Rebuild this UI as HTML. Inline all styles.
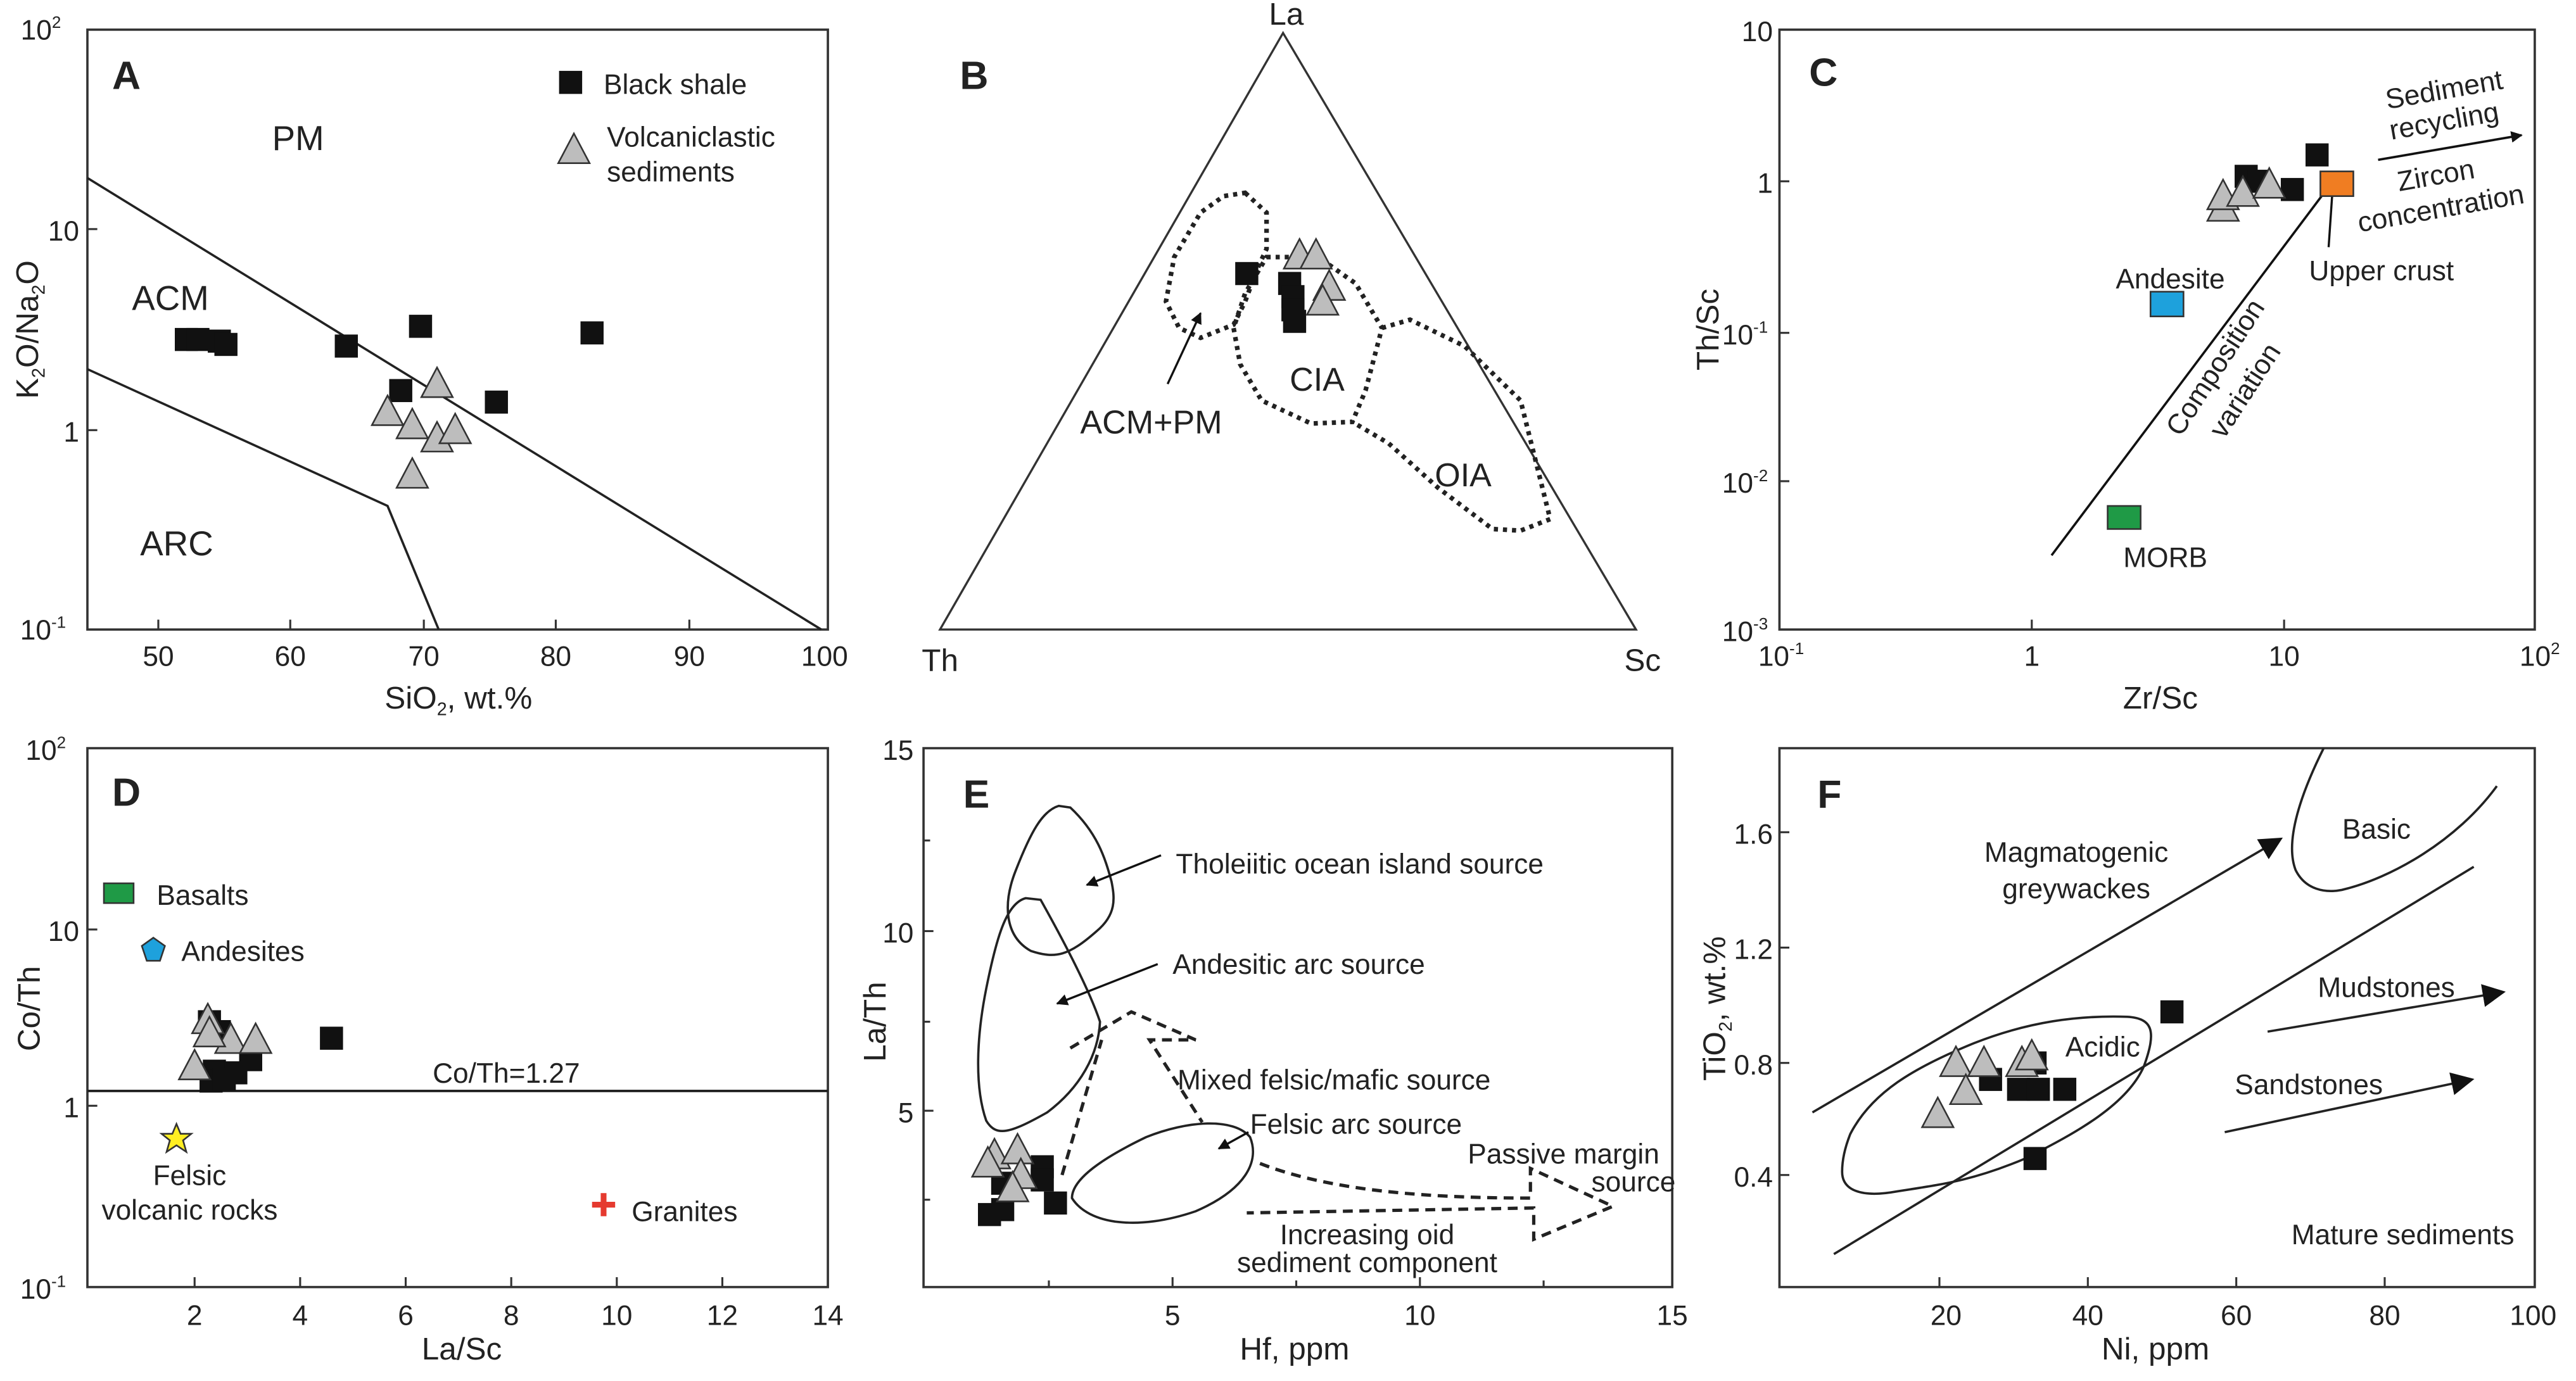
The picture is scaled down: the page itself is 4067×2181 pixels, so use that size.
<!DOCTYPE html>
<html><head><meta charset="utf-8"><style>html,body{margin:0;padding:0;background:#fff;}svg{display:block;}text{font-family:"Liberation Sans",Arial,sans-serif;fill:#222;}</style></head>
<body>
<svg width="4067" height="2181" viewBox="0 0 1562 838" preserveAspectRatio="none" xmlns="http://www.w3.org/2000/svg">
<defs>
<rect id="sq" x="-7" y="-7" width="14" height="14" fill="#111"/>
<polygon id="tri" points="0,-11 9.5,7 -9.5,7" fill="#bdbdbd" stroke="#333" stroke-width="1"/>
<marker id="ah" viewBox="0 0 10 10" refX="9" refY="5" markerWidth="7" markerHeight="7" orient="auto" markerUnits="userSpaceOnUse"><path d="M0,0 L10,5 L0,10 z" fill="#111"/></marker>
<marker id="ahb" viewBox="0 0 10 10" refX="9" refY="5" markerWidth="14" markerHeight="14" orient="auto" markerUnits="userSpaceOnUse"><path d="M0,0 L10,5 L0,10 z" fill="#111"/></marker>
</defs>
<g font-size="17">
<!-- ===== Panel A ===== -->
<rect x="53" y="18" width="449" height="364" fill="none" stroke="#333" stroke-width="1.4"/>
<g stroke="#333" stroke-width="1.2">
<line x1="96" y1="382" x2="96" y2="376"/><line x1="176" y1="382" x2="176" y2="376"/><line x1="257" y1="382" x2="257" y2="376"/><line x1="337" y1="382" x2="337" y2="376"/><line x1="418" y1="382" x2="418" y2="376"/>
<line x1="53" y1="139" x2="59" y2="139"/><line x1="53" y1="261" x2="59" y2="261"/>
</g>
<g text-anchor="middle"><text x="96" y="404">50</text><text x="176" y="404">60</text><text x="257" y="404">70</text><text x="337" y="404">80</text><text x="418" y="404">90</text><text x="500" y="404">100</text></g>
<g text-anchor="end"><text x="37" y="24">10<tspan font-size="10" dy="-7">2</tspan></text><text x="48" y="146">10</text><text x="48" y="268">1</text><text x="40" y="388">10<tspan font-size="10" dy="-7">-1</tspan></text></g>
<text x="278" y="430" text-anchor="middle" font-size="19">SiO<tspan font-size="11" dy="4">2</tspan><tspan dy="-4">, wt.%</tspan></text>
<text transform="translate(23,200) rotate(-90)" text-anchor="middle" font-size="19">K<tspan font-size="11" dy="4">2</tspan><tspan dy="-4">O/Na</tspan><tspan font-size="11" dy="4">2</tspan><tspan dy="-4">O</tspan></text>
<polyline points="53,108 498,382" fill="none" stroke="#222" stroke-width="1.4"/>
<polyline points="53,224 235,307 266,382" fill="none" stroke="#222" stroke-width="1.4"/>
<text x="68" y="54" font-size="24" font-weight="bold">A</text>
<text x="165" y="91" font-size="21">PM</text><text x="80" y="188" font-size="21">ACM</text><text x="85" y="337" font-size="21">ARC</text>
<use href="#sq" x="346" y="50"/><text x="366" y="57">Black shale</text>
<use href="#tri" x="348" y="92"/><text x="368" y="89">Volcaniclastic</text><text x="368" y="110">sediments</text>
<use href="#sq" x="113" y="206"/><use href="#sq" x="120" y="206"/><use href="#sq" x="133" y="207"/><use href="#sq" x="137" y="209"/><use href="#sq" x="210" y="210"/><use href="#sq" x="255" y="198"/><use href="#sq" x="243" y="237"/><use href="#sq" x="359" y="202"/><use href="#sq" x="301" y="244"/>
<use href="#tri" x="265" y="234"/><use href="#tri" x="235" y="251"/><use href="#tri" x="250" y="259"/><use href="#tri" x="265" y="267"/><use href="#tri" x="276" y="262"/><use href="#tri" x="250" y="289"/>

<!-- ===== Panel B ===== -->
<polygon points="778,20 570,382 992,382" fill="none" stroke="#333" stroke-width="1.3"/>
<text x="780" y="15" text-anchor="middle" font-size="19">La</text><text x="570" y="407" text-anchor="middle" font-size="19">Th</text><text x="996" y="407" text-anchor="middle" font-size="19">Sc</text>
<text x="582" y="54" font-size="24" font-weight="bold">B</text>
<g fill="none" stroke="#222" stroke-width="2.8" stroke-dasharray="2.5,3">
<path d="M755,117 L768,129 L768,151 L762,164 L755,183 L748,197 L728,205 L715,199 L707,183 L712,156 L728,129 L742,119 Z"/>
<path d="M768,156 L788,156 L805,160 L822,172 L832,189 L838,199 L828,237 L820,256 L795,257 L765,243 L752,221 L748,199 L755,178 Z"/>
<path d="M838,199 L855,194 L888,210 L922,243 L940,315 L922,322 L905,321 L872,296 L842,269 L820,256"/>
</g>
<line x1="708" y1="233" x2="728" y2="190" stroke="#111" stroke-width="1.3" marker-end="url(#ah)"/>
<text x="655" y="263" font-size="20">ACM+PM</text><text x="782" y="237" font-size="20">CIA</text><text x="870" y="295" font-size="20">OIA</text>
<use href="#sq" x="756" y="166"/><use href="#sq" x="782" y="172"/><use href="#sq" x="784" y="180"/><use href="#sq" x="784" y="188"/><use href="#sq" x="785" y="195"/>
<use href="#tri" x="788" y="156"/><use href="#tri" x="798" y="156"/><use href="#tri" x="806" y="175"/><use href="#tri" x="802" y="184"/>

<!-- ===== Panel C ===== -->
<rect x="1079" y="18" width="458" height="364" fill="none" stroke="#333" stroke-width="1.4"/>
<g stroke="#333" stroke-width="1.2">
<line x1="1232" y1="382" x2="1232" y2="376"/><line x1="1385" y1="382" x2="1385" y2="376"/>
<line x1="1079" y1="110" x2="1085" y2="110"/><line x1="1079" y1="202" x2="1085" y2="202"/><line x1="1079" y1="292" x2="1085" y2="292"/>
</g>
<g text-anchor="middle"><text x="1080" y="404">10<tspan font-size="10" dy="-7">-1</tspan></text><text x="1232" y="404">1</text><text x="1385" y="404">10</text><text x="1540" y="404">10<tspan font-size="10" dy="-7">2</tspan></text></g>
<g text-anchor="end"><text x="1075" y="25">10</text><text x="1075" y="117">1</text><text x="1072" y="209">10<tspan font-size="10" dy="-7">-1</tspan></text><text x="1072" y="299">10<tspan font-size="10" dy="-7">-2</tspan></text><text x="1072" y="389">10<tspan font-size="10" dy="-7">-3</tspan></text></g>
<text x="1310" y="430" text-anchor="middle" font-size="19">Zr/Sc</text>
<text transform="translate(1042,200) rotate(-90)" text-anchor="middle" font-size="19">Th/Sc</text>
<text x="1097" y="52" font-size="24" font-weight="bold">C</text>
<line x1="1244" y1="337" x2="1410" y2="116" stroke="#111" stroke-width="1.4"/>
<line x1="1412" y1="150" x2="1415" y2="106" stroke="#111" stroke-width="1.3" marker-end="url(#ah)"/>
<line x1="1442" y1="97" x2="1529" y2="82" stroke="#111" stroke-width="1.4" marker-end="url(#ah)"/>
<text transform="translate(1483,60) rotate(-10)" text-anchor="middle">Sediment</text>
<text transform="translate(1483,79) rotate(-10)" text-anchor="middle">recycling</text>
<text transform="translate(1478,112) rotate(-10)" text-anchor="middle">Zircon</text>
<text transform="translate(1481,132) rotate(-10)" text-anchor="middle">concentration</text>
<text x="1444" y="170" text-anchor="middle">Upper crust</text>
<text x="1316" y="175" text-anchor="middle">Andesite</text>
<text x="1313" y="344" text-anchor="middle">MORB</text>
<text transform="translate(1348,226) rotate(-57)" text-anchor="middle">Composition</text>
<text transform="translate(1366,240) rotate(-57)" text-anchor="middle">variation</text>
<use href="#sq" x="1405" y="94"/><use href="#sq" x="1362" y="107"/><use href="#sq" x="1370" y="110"/><use href="#sq" x="1390" y="115"/>
<use href="#tri" x="1348" y="127"/><use href="#tri" x="1348" y="120"/><use href="#tri" x="1360" y="118"/><use href="#tri" x="1376" y="113"/>
<rect x="1407" y="104" width="20" height="15" fill="#f07d22" stroke="#333" stroke-width="1"/>
<rect x="1304" y="177" width="20" height="15" fill="#1ea1dc" stroke="#333" stroke-width="1"/>
<rect x="1278" y="307" width="20" height="14" fill="#1f9a46" stroke="#333" stroke-width="1"/>

<!-- ===== Panel D ===== -->
<rect x="53" y="454" width="449" height="327" fill="none" stroke="#333" stroke-width="1.4"/>
<g stroke="#333" stroke-width="1.2">
<line x1="118" y1="781" x2="118" y2="775"/><line x1="182" y1="781" x2="182" y2="775"/><line x1="246" y1="781" x2="246" y2="775"/><line x1="310" y1="781" x2="310" y2="775"/><line x1="374" y1="781" x2="374" y2="775"/><line x1="438" y1="781" x2="438" y2="775"/>
<line x1="53" y1="564" x2="59" y2="564"/><line x1="53" y1="671" x2="59" y2="671"/>
</g>
<g text-anchor="middle"><text x="118" y="804">2</text><text x="182" y="804">4</text><text x="246" y="804">6</text><text x="310" y="804">8</text><text x="374" y="804">10</text><text x="438" y="804">12</text><text x="502" y="804">14</text></g>
<g text-anchor="end"><text x="40" y="461">10<tspan font-size="10" dy="-7">2</tspan></text><text x="48" y="571">10</text><text x="48" y="678">1</text><text x="40" y="788">10<tspan font-size="10" dy="-7">-1</tspan></text></g>
<text x="280" y="825" text-anchor="middle" font-size="19">La/Sc</text>
<text transform="translate(24,612) rotate(-90)" text-anchor="middle" font-size="19">Co/Th</text>
<text x="68" y="489" font-size="24" font-weight="bold">D</text>
<line x1="53" y1="662" x2="502" y2="662" stroke="#222" stroke-width="1.5"/>
<text x="307" y="657" text-anchor="middle">Co/Th=1.27</text>
<rect x="63" y="536" width="18" height="12" fill="#1f9a46" stroke="#333" stroke-width="1"/><text x="95" y="549">Basalts</text>
<polygon points="93,569 100,574 97,583 89,583 86,574" fill="#1ea1dc" stroke="#333" stroke-width="1"/><text x="110" y="583">Andesites</text>
<polygon points="107,682 109.5,688 116,688 111,692 113,699 107,695 101,699 103,692 98,688 104.5,688" fill="#ffee22" stroke="#333" stroke-width="1"/>
<text x="115" y="719" text-anchor="middle">Felsic</text><text x="115" y="740" text-anchor="middle">volcanic rocks</text>
<path d="M366,724 V738 M359,731 H373" stroke="#e53a2f" stroke-width="3.5"/><text x="383" y="741">Granites</text>
<use href="#sq" x="127" y="620"/><use href="#sq" x="133" y="626"/><use href="#sq" x="201" y="630"/><use href="#sq" x="130" y="650"/><use href="#sq" x="143" y="651"/><use href="#sq" x="152" y="643"/><use href="#sq" x="128" y="656"/><use href="#sq" x="136" y="655"/>
<use href="#tri" x="126" y="620"/><use href="#tri" x="140" y="632"/><use href="#tri" x="155" y="632"/><use href="#tri" x="118" y="648"/><use href="#tri" x="127" y="628"/>

<!-- ===== Panel E ===== -->
<rect x="560" y="454" width="454" height="327" fill="none" stroke="#333" stroke-width="1.4"/>
<g stroke="#333" stroke-width="1.2">
<line x1="636" y1="781" x2="636" y2="777"/><line x1="711" y1="781" x2="711" y2="775"/><line x1="786" y1="781" x2="786" y2="777"/><line x1="861" y1="781" x2="861" y2="775"/><line x1="936" y1="781" x2="936" y2="777"/>
<line x1="560" y1="565" x2="566" y2="565"/><line x1="560" y1="674" x2="566" y2="674"/><line x1="560" y1="510" x2="564" y2="510"/><line x1="560" y1="620" x2="564" y2="620"/><line x1="560" y1="728" x2="564" y2="728"/>
</g>
<g text-anchor="middle"><text x="711" y="804">5</text><text x="861" y="804">10</text><text x="1014" y="804">15</text></g>
<g text-anchor="end"><text x="554" y="461">15</text><text x="554" y="572">10</text><text x="554" y="681">5</text></g>
<text x="785" y="825" text-anchor="middle" font-size="19">Hf, ppm</text>
<text transform="translate(537,620) rotate(-90)" text-anchor="middle" font-size="19">La/Th</text>
<text x="584" y="490" font-size="24" font-weight="bold">E</text>
<g fill="none" stroke="#222" stroke-width="1.4">
<path d="M642,489 C632,492 625,505 616,528 C608,548 609,568 625,577 C640,582 648,580 665,565 C677,555 676,545 674,535 C670,520 665,505 649,490 Z"/>
<path d="M622,545 C610,548 604,570 598,600 C592,630 591,660 598,680 C604,690 612,688 635,675 C655,660 666,640 667,620 C662,605 650,580 631,546 Z"/>
<path d="M650,727 C660,743 690,747 725,735 C755,722 764,705 758,690 C748,678 720,680 695,690 C670,702 650,715 650,727 Z"/>
</g>
<g fill="none" stroke="#222" stroke-width="2" stroke-dasharray="6,4">
<path d="M644,713 L668,631"/>
<path d="M649,636 L686,614 L725,631 L697,631 L729,681"/>
<path d="M764,706 C800,720 850,727 928,727 L928,709 L978,732 L930,752 L930,733 L756,736"/>
</g>
<line x1="704" y1="519" x2="659" y2="537" stroke="#111" stroke-width="1.3" marker-end="url(#ah)"/>
<line x1="702" y1="585" x2="641" y2="609" stroke="#111" stroke-width="1.3" marker-end="url(#ah)"/>
<line x1="757" y1="687" x2="739" y2="697" stroke="#111" stroke-width="1.3" marker-end="url(#ah)"/>
<text x="713" y="530">Tholeiitic ocean island source</text>
<text x="711" y="591">Andesitic arc source</text>
<text x="714" y="661">Mixed felsic/mafic source</text>
<text x="758" y="688">Felsic arc source</text>
<text x="890" y="706">Passive margin</text>
<text x="1016" y="723" text-anchor="end">source</text>
<text x="829" y="755" text-anchor="middle">Increasing oid</text>
<text x="829" y="772" text-anchor="middle">sediment component</text>
<use href="#sq" x="632" y="708"/><use href="#sq" x="632" y="716"/><use href="#sq" x="608" y="718"/><use href="#sq" x="640" y="730"/><use href="#sq" x="600" y="737"/><use href="#sq" x="608" y="734"/>
<use href="#tri" x="603" y="702"/><use href="#tri" x="617" y="699"/><use href="#tri" x="599" y="707"/><use href="#tri" x="619" y="714"/><use href="#tri" x="614" y="722"/>

<!-- ===== Panel F ===== -->
<rect x="1079" y="454" width="458" height="327" fill="none" stroke="#333" stroke-width="1.4"/>
<g stroke="#333" stroke-width="1.2">
<line x1="1176" y1="781" x2="1176" y2="775"/><line x1="1266" y1="781" x2="1266" y2="775"/><line x1="1356" y1="781" x2="1356" y2="775"/><line x1="1446" y1="781" x2="1446" y2="775"/>
<line x1="1079" y1="505" x2="1085" y2="505"/><line x1="1079" y1="575" x2="1085" y2="575"/><line x1="1079" y1="645" x2="1085" y2="645"/><line x1="1079" y1="713" x2="1085" y2="713"/>
</g>
<g text-anchor="middle"><text x="1180" y="804">20</text><text x="1266" y="804">40</text><text x="1356" y="804">60</text><text x="1446" y="804">80</text><text x="1536" y="804">100</text></g>
<g text-anchor="end"><text x="1075" y="512">1.6</text><text x="1075" y="582">1.2</text><text x="1075" y="652">0.8</text><text x="1075" y="720">0.4</text></g>
<text x="1307" y="825" text-anchor="middle" font-size="19">Ni, ppm</text>
<text transform="translate(1046,612) rotate(-90)" text-anchor="middle" font-size="19">TiO<tspan font-size="11" dy="4">2</tspan><tspan dy="-4">, wt.%</tspan></text>
<text x="1102" y="490" font-size="24" font-weight="bold">F</text>
<g fill="none" stroke="#222" stroke-width="1.4">
<line x1="1099" y1="675" x2="1383" y2="509" marker-end="url(#ahb)"/>
<line x1="1112" y1="761" x2="1500" y2="526"/>
<path d="M1409,454 C1396,480 1385,510 1392,528 C1398,540 1410,542 1420,540 C1450,533 1490,510 1514,477"/>
<path d="M1117,711 C1117,722 1128,727 1150,723 C1175,719 1195,717 1228,703 C1260,687 1290,670 1300,647 C1308,625 1305,618 1290,617 C1260,616 1230,620 1197,633 C1160,648 1135,663 1122,688 C1118,698 1117,705 1117,711 Z"/>
<line x1="1375" y1="626" x2="1518" y2="602" marker-end="url(#ahb)"/>
<line x1="1349" y1="687" x2="1499" y2="655" marker-end="url(#ahb)"/>
</g>
<text x="1441" y="509" text-anchor="middle">Basic</text>
<text x="1259" y="523" text-anchor="middle">Magmatogenic</text><text x="1259" y="545" text-anchor="middle">greywackes</text>
<text x="1275" y="641" text-anchor="middle">Acidic</text>
<text x="1447" y="605" text-anchor="middle">Mudstones</text>
<text x="1400" y="664" text-anchor="middle">Sandstones</text>
<text x="1457" y="755" text-anchor="middle">Mature sediments</text>
<use href="#sq" x="1317" y="614"/><use href="#sq" x="1234" y="645"/><use href="#sq" x="1207" y="655"/><use href="#sq" x="1224" y="661"/><use href="#sq" x="1236" y="661"/><use href="#sq" x="1252" y="661"/><use href="#sq" x="1234" y="703"/>
<use href="#tri" x="1186" y="646"/><use href="#tri" x="1203" y="646"/><use href="#tri" x="1226" y="646"/><use href="#tri" x="1232" y="642"/><use href="#tri" x="1192" y="663"/><use href="#tri" x="1175" y="677"/>
</g>
</svg>
</body></html>
